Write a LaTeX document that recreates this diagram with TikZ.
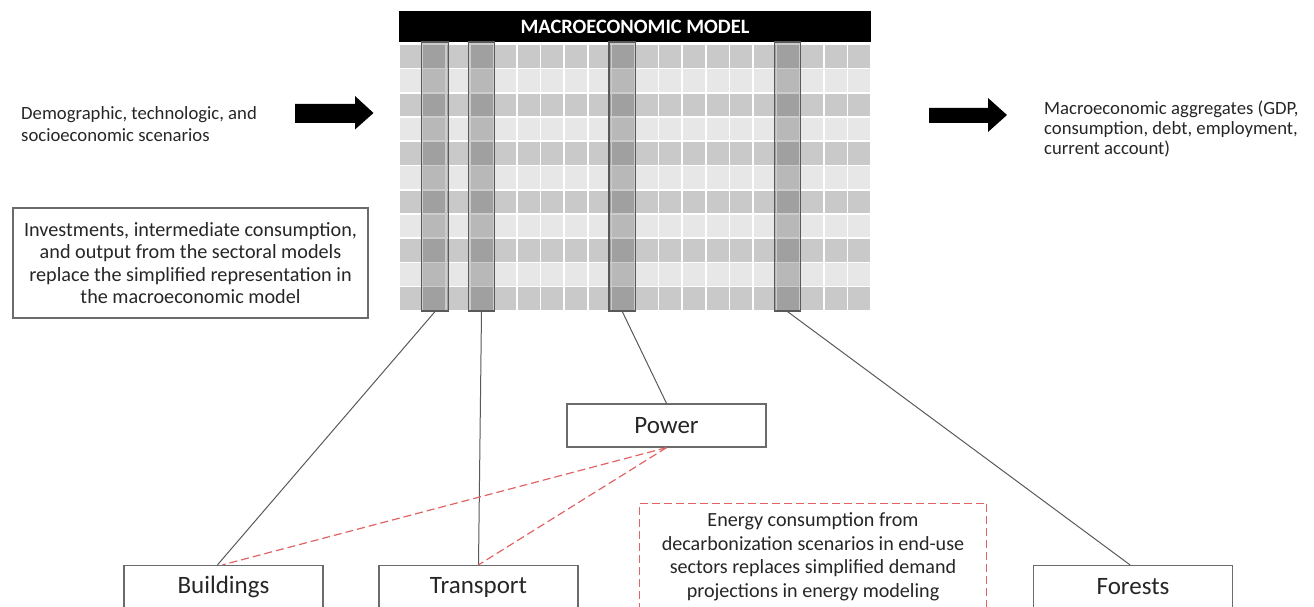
\documentclass[tikz,border=0pt]{standalone}
\usepackage{fontspec}
\setmainfont{Carlito}
\usetikzlibrary{positioning}
\definecolor{cellD}{HTML}{C9C9C9}
\definecolor{cellL}{HTML}{E7E7E7}
\definecolor{lineG}{HTML}{595959}
\definecolor{boxG}{HTML}{6B6B6B}
\definecolor{redD}{HTML}{E06464}
\tikzset{
  sector/.style={draw=boxG, line width=1.3pt, fill=white, minimum width=199pt, minimum height=43pt, inner sep=0pt, font=\fontsize{25}{28}\selectfont, text=black!85},
  hl/.style={draw=black!65, line width=1.2pt, fill=black, fill opacity=0.2, minimum width=26.6pt, minimum height=269pt, inner sep=0pt},
  conn/.style={draw=lineG, line width=1pt},
  rconn/.style={draw=redD, line width=1.2pt, dash pattern=on 8pt off 4pt},
  bigarrow/.style={fill=black},
  smalltxt/.style={font=\fontsize{18.7}{22}\selectfont, text=black!85, align=left, inner sep=0pt},
  midtxt/.style={font=\fontsize{20.2}{22.4}\selectfont, text=black!85, align=center}
}
\begin{document}
\begin{tikzpicture}[x=1pt,y=-1pt]
\useasboundingbox (0,0) rectangle (1314,607);
\clip (0,0) rectangle (1314,607);
% header
\node[fill=black, minimum width=472pt, minimum height=31pt, inner sep=0pt, text=white, font=\fontsize{20.4}{22}\selectfont\bfseries] (header) at (635,26.5) {MACROECONOMIC MODEL};
% grid cells
\foreach \i in {0,...,19}{
  \foreach \j in {0,...,10}{
    \pgfmathsetmacro{\xa}{399+23.6*\i+0.8}
    \pgfmathsetmacro{\xb}{399+23.6*(\i+1)-0.8}
    \pgfmathsetmacro{\ya}{44.5+24.2*\j+0.8}
    \pgfmathsetmacro{\yb}{44.5+24.2*(\j+1)-0.8}
    \ifodd\j
      \fill[cellL] (\xa,\ya) rectangle (\xb,\yb);
    \else
      \fill[cellD] (\xa,\ya) rectangle (\xb,\yb);
    \fi
  }
}
% highlighted sector columns
\node[hl] (hb) at (435,176.5) {};
\node[hl] (ht) at (481.5,176.5) {};
\node[hl] (hp) at (622.3,176.5) {};
\node[hl] (hf) at (787.5,176.5) {};
% texts
\node[smalltxt, anchor=north west] (demo) at (21,106) {Demographic, technologic, and\\socioeconomic scenarios};
\node[smalltxt, anchor=north west, font=\fontsize{18.7}{19.8}\selectfont] (agg) at (1044,101) {Macroeconomic aggregates (GDP,\\consumption, debt, employment,\\current account)};
\node[midtxt, draw=boxG, line width=1.2pt, minimum width=355pt, minimum height=110pt, inner sep=0pt] (invest) at (190.5,263) {Investments, intermediate consumption,\\and output from the sectoral models\\replace the simplified representation in\\the macroeconomic model};
% big arrows
\fill[bigarrow] (295,104) -- (355,104) -- (355,96) -- (373.5,113) -- (355,129.5) -- (355,123) -- (295,123) -- cycle;
\fill[bigarrow] (929,108) -- (988,108) -- (988,98) -- (1007,115) -- (988,132) -- (988,123) -- (929,123) -- cycle;
% sector boxes
\node[sector] (power) at (666.5,425.5) {Power};
\node[sector] (build) at (223.5,587) {Buildings};
\node[sector] (trans) at (478.5,587) {Transport};
\node[sector] (forest) at (1133,587) {Forests};
% red dashed box
\node[draw=redD, line width=1.2pt, dash pattern=on 8pt off 4pt, minimum width=347pt, minimum height=130pt, inner sep=0pt, anchor=north] (energy) at (813,502.5) {};
\node[midtxt, font=\fontsize{20.1}{23.7}\selectfont, anchor=north] (energytxt) at (813,509) {Energy consumption from\\decarbonization scenarios in end-use\\sectors replaces simplified demand\\projections in energy modeling};
% connectors
\draw[conn] (hb.south) -- ([xshift=-6pt]build.north);
\draw[conn] (ht.south) -- (trans.north);
\draw[conn] (hp.south) -- (power.north);
\draw[conn] (hf.south) -- ([xshift=-3pt]forest.north);
\draw[rconn] (power.south) -- ([xshift=-1pt]build.north);
\draw[rconn] (power.south) -- (trans.north);
\end{tikzpicture}
\end{document}
